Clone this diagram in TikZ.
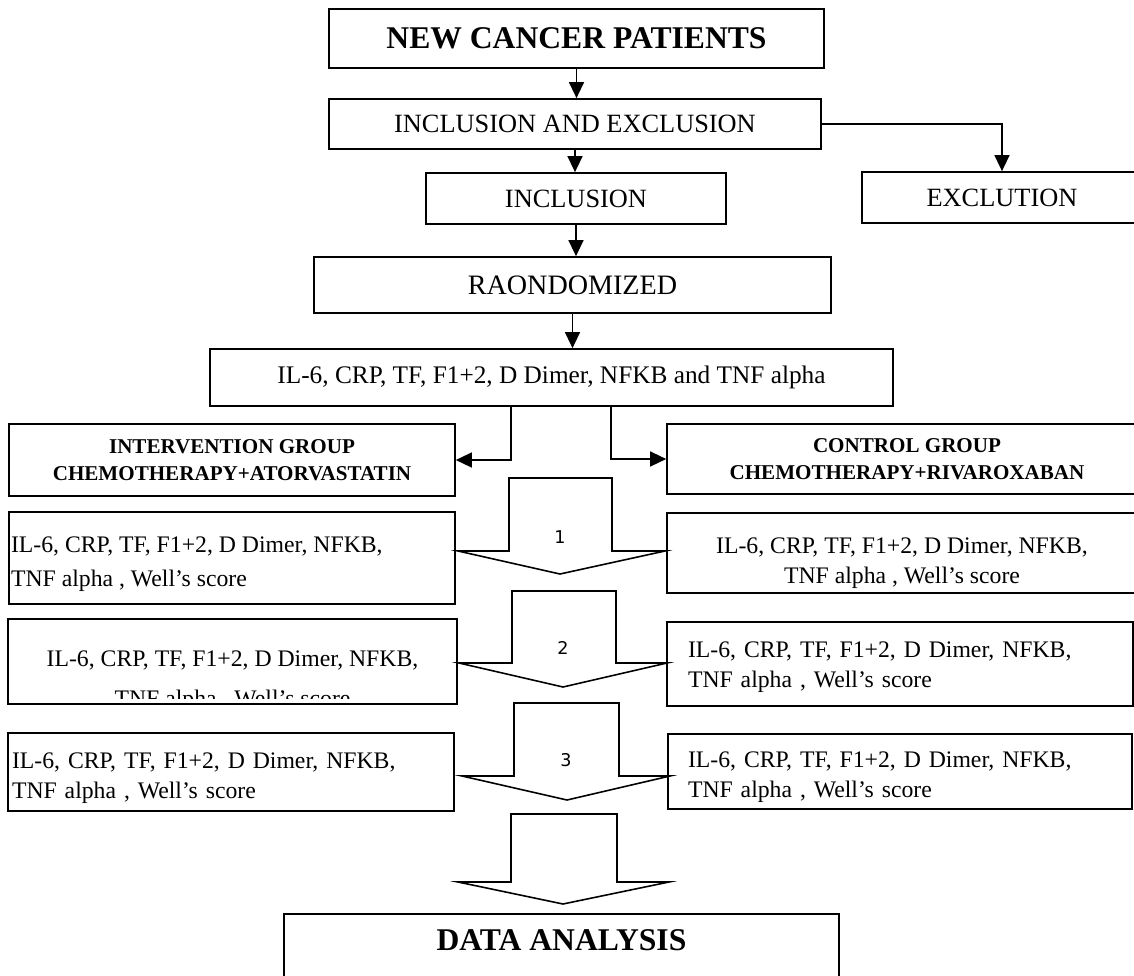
\documentclass[tikz,border=0pt]{standalone}
\usepackage{fontspec}
\setmainfont{Liberation Serif}
\newfontfamily\numfont{DejaVu Sans}
\usetikzlibrary{arrows.meta,positioning}

\tikzset{
  box/.style={draw, line width=1pt, inner sep=0pt, font=\fontsize{15}{18}\selectfont},
  title/.style={box, font=\fontsize{18}{21}\selectfont\bfseries},
  grp/.style={box, align=center, font=\fontsize{12}{15}\selectfont\bfseries},
  lab/.style={box, font=\fontsize{13.5}{17}\selectfont},
  txt/.style={lab, draw=none},
  numlbl/.style={font=\numfont\fontsize{10}{12}\selectfont},
  arr/.style={line width=0.8pt, -{Triangle[length=0.32cm,width=0.3cm]}},
  bigarr/.style={line width=0.9pt, line join=miter},
}

\begin{document}
\begin{tikzpicture}[x=0.02cm, y=-0.02cm]
\useasboundingbox (0,0) rectangle (1134,975);
\clip (0,0) rectangle (1134,975);

% Enrolment
\node[title, minimum width=9.9cm, minimum height=1.18cm] (patients) at (576.5,38.5) {NEW CANCER PATIENTS};
\node[box, minimum width=9.84cm, minimum height=1cm] (incexc) at (575,124) {INCLUSION AND EXCLUSION};
\node[box, minimum width=6cm, minimum height=1.02cm] (incl) at (576,198.5) {INCLUSION};
\node[box, minimum width=5.6cm, minimum height=1.02cm] (excl) at (1002,197.5) {EXCLUTION};
\node[box, minimum width=10.34cm, minimum height=1.12cm, font=\fontsize{16}{19}\selectfont] (random) at (572.5,285) {RAONDOMIZED};
\node[box, minimum width=13.66cm, minimum height=1.14cm, font=\fontsize{14.4}{17}\selectfont] (markers) at (551.5,377.5) {IL-6, CRP, TF, F1+2, D Dimer, NFKB and TNF alpha};

% Groups
\node[grp, minimum width=8.92cm, minimum height=1.44cm] (interv) at (232,460) {INTERVENTION GROUP\\CHEMOTHERAPY+ATORVASTATIN};
\node[grp, minimum width=9.6cm, minimum height=1.4cm] (control) at (907,459) {CONTROL GROUP\\CHEMOTHERAPY+RIVAROXABAN};

% Follow-up, first row
\node[lab, minimum width=8.92cm, minimum height=1.84cm] (left1) at (232,558) {};
\node[txt, anchor=north west, align=left] (left1txt) at ([xshift=0.04cm, yshift=-0.5cm]left1.north west) {IL-6, CRP, TF, F1+2, D Dimer, NFKB,\\[2pt]TNF alpha , Well's score};
\node[lab, minimum width=9.4cm, minimum height=1.6cm] (right1) at (902,553) {};
\node[txt, align=center] (right1txt) at ([yshift=-0.2cm]right1.center) {IL-6, CRP, TF, F1+2, D Dimer, NFKB,\\TNF alpha , Well's score};

% second row
\node[lab, minimum width=8.98cm, minimum height=1.7cm] (left2) at (232.5,661.5) {};
\begin{scope}
  \clip (left2.north west) rectangle ([yshift=0.12cm]left2.south east);
  \node[txt] (left2a) at (232.5,660) {IL-6, CRP, TF, F1+2, D Dimer, NFKB,};
  \node[txt] (left2b) at (232.5,701) {TNF alpha , Well's score};
\end{scope}
\node[lab, minimum width=9.32cm, minimum height=1.68cm] (right2) at (900,664) {};
\node[txt, text width=8.48cm, align=left] (right2txt) at ([yshift=-0.06cm]right2.center) {IL-6, CRP, TF, F1+2, D Dimer, NFKB,\\TNF alpha , Well's score};

% third row
\node[lab, minimum width=8.92cm, minimum height=1.56cm] (left3) at (231,772) {};
\node[txt, text width=8.76cm, align=left] (left3txt) at ([yshift=-0.12cm]left3.center) {IL-6, CRP, TF, F1+2, D Dimer, NFKB,\\TNF alpha , Well's score};
\node[lab, minimum width=9.28cm, minimum height=1.5cm] (right3) at (900,771.5) {};
\node[txt, text width=8.48cm, align=left] (right3txt) at ([yshift=-0.12cm]right3.center) {IL-6, CRP, TF, F1+2, D Dimer, NFKB,\\TNF alpha , Well's score};

\node[title, minimum width=11.1cm, minimum height=1.28cm, text depth=0.24cm] (analysis) at (561.5,946) {DATA ANALYSIS};

% Connectors
\draw[arr] (patients.south) -- (patients.south |- incexc.north);
\draw[arr] (incexc.south) -- (incexc.south |- incl.north);
\draw[arr] (incexc.east) -| (excl.north);
\draw[arr] (incl.south) -- (incl.south |- random.north);
\draw[arr] (random.south) -- (random.south |- markers.north);
\draw[arr] ([xshift=-0.81cm]markers.south) |- (interv.east);
\draw[arr] ([xshift=1.19cm]markers.south) |- (control.west);

% Block arrows
\foreach \xl/\xr/\yt/\yb/\hl/\hr/\tx/\ty in {509/612/478/551/458/665/560/574,
    512/616/591/663/459/667/563/687, 514/619/703/776/462/670/567/800,
    511/617/814/882/458/669/563/904}
  \draw[bigarr] (\xl,\yt) -- (\xr,\yt) -- (\xr,\yb) -- (\hr,\yb) -- (\tx,\ty)
    -- (\hl,\yb) -- (\xl,\yb) -- cycle;
\foreach \n/\x/\y in {1/560/537, 2/563/648, 3/566/760}
  \node[numlbl] (num\n) at (\x,\y) {\n};

\end{tikzpicture}
\end{document}
